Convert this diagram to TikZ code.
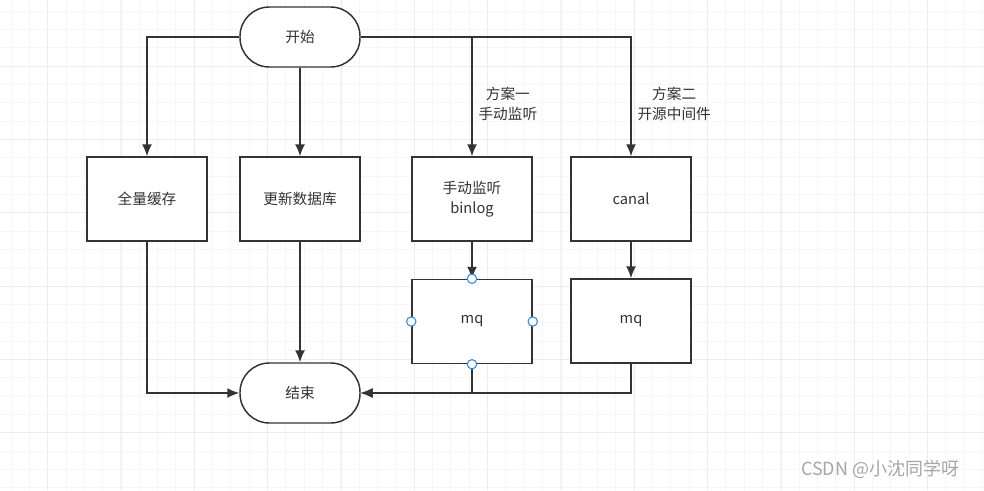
\documentclass[tikz,border=0pt]{standalone}
\usepackage{fontspec}
\setmainfont{Noto Sans CJK SC}
\usetikzlibrary{arrows,arrows.meta,shapes.geometric}
\definecolor{linegray}{RGB}{51,51,51}
\definecolor{handleblue}{RGB}{41,140,240}
\definecolor{gridminor}{RGB}{246,246,246}
\definecolor{gridmajor}{RGB}{236,236,236}

\begin{document}
\begin{tikzpicture}[x=0.75pt,y=-0.75pt,->,>={Latex[length=9pt,width=7.5pt]},line width=1.1pt,color=linegray]

            \tikzstyle{every node}=[font=\fontsize{11}{15}\selectfont]
            \tikzstyle{terminal}=[rectangle,rounded corners=22pt,draw=linegray,fill=white,minimum width=90pt,minimum height=45pt]
            \tikzstyle{process}=[rectangle,draw=linegray,fill=white,minimum width=90pt,minimum height=63pt,align=center]
            \tikzstyle{handle}=[circle,draw=handleblue,fill=white,inner sep=0pt,minimum size=7pt,line width=0.8pt]

            \useasboundingbox (0,0) rectangle (984,490);
            \fill[white] (0,0) rectangle (984,490);

            % background grid
            \foreach \gx in {0,...,53} \draw[-,gridminor,line width=0.75pt] (11+18.333*\gx,0) -- (11+18.333*\gx,490);
            \foreach \gy in {0,...,26} \draw[-,gridminor,line width=0.75pt] (0,11+18.333*\gy) -- (984,11+18.333*\gy);
            \foreach \gx in {0,...,12} \draw[-,gridmajor,line width=0.75pt] (47.7+73.333*\gx,0) -- (47.7+73.333*\gx,490);
            \foreach \gy in {0,...,5} \draw[-,gridmajor,line width=0.75pt] (0,66+73.333*\gy) -- (984,66+73.333*\gy);

            \node[terminal] (0) at (300,37)    {开始};
            \node[process]  (1) at (147,199)   {全量缓存};
            \node[process]  (2) at (300,199)   {更新数据库};
            \node[process]  (3) at (472,199)   {手动监听\\binlog};
            \node[process]  (4) at (631,199)   {canal};
            \node[process]  (5) at (472,321.5) {mq};
            \node[process]  (6) at (631,321)   {mq};
            \node[terminal] (7) at (300,393)   {结束};

            \draw (0.west) -| (1.north);
            \draw (0.south) -- (2.north);
            \draw (0.east) -| node[pos=0.78,right,align=center,xshift=1pt] {方案一\\手动监听} (3.north);
            \draw (0.east) -| node[pos=0.78,right,align=center,xshift=1pt] {方案二\\开源中间件} (4.north);
            \draw (3) -- (5);
            \draw (4) -- (6);
            \draw (1.south) |- (7.west);
            \draw (2) -- (7);
            \draw (6.south) |- (7.east);
            \draw (5.south) |- (7.east);

            % selection handles
            \foreach \a in {north,south,east,west} \node[handle] at (5.\a) {};

            \node[text=gray!70,anchor=west,font=\fontsize{13.5}{16}\selectfont] (wm) at (796,469) {CSDN @小沈同学呀};
        \end{tikzpicture}
\end{document}
